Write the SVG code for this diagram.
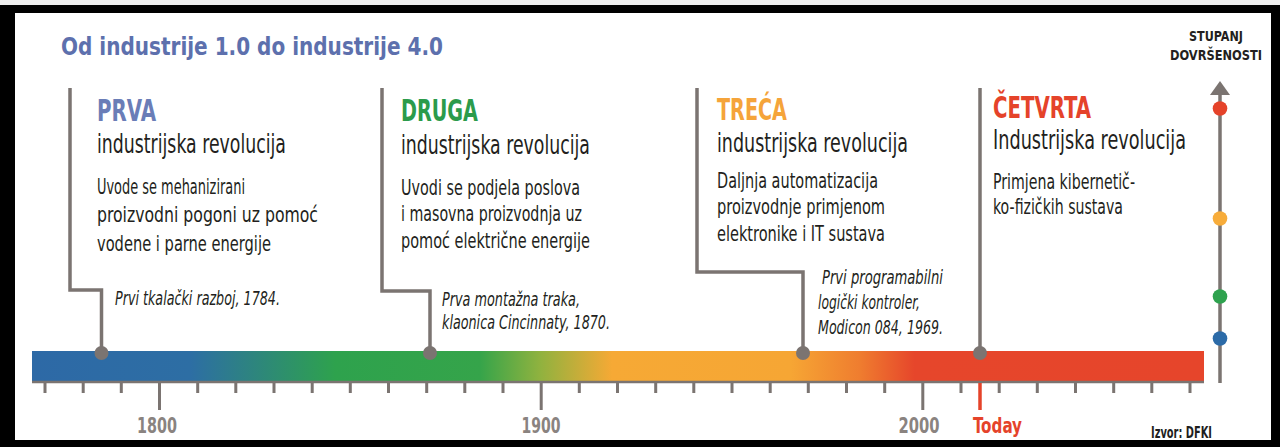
<svg xmlns="http://www.w3.org/2000/svg" width="1280" height="447" viewBox="0 0 1280 447">
  <defs>
    <linearGradient id="barGrad" gradientUnits="userSpaceOnUse" x1="32" y1="0" x2="1204" y2="0">
      <stop offset="0" stop-color="#2d69a6"/>
      <stop offset="0.135" stop-color="#2d6ea4"/>
      <stop offset="0.259" stop-color="#2ea24d"/>
      <stop offset="0.382" stop-color="#35a44a"/>
      <stop offset="0.433" stop-color="#8fb23f"/>
      <stop offset="0.495" stop-color="#f6a935"/>
      <stop offset="0.647" stop-color="#f6a634"/>
      <stop offset="0.706" stop-color="#ef7d2f"/>
      <stop offset="0.753" stop-color="#e6462b"/>
      <stop offset="1" stop-color="#e6452b"/>
    </linearGradient>
    <marker id="arrowUp" markerUnits="userSpaceOnUse" markerWidth="16" markerHeight="22" refX="1" refY="11" orient="auto">
      <path d="M0,1 L14,11 L0,21 Z" fill="#7b7471"/>
    </marker>
  </defs>
  <style>
    .sans { font-family: "Liberation Sans Narrow", "DejaVu Sans Condensed", "Roboto Condensed", "Liberation Sans", Arial, sans-serif; font-stretch: condensed; }
    .title { font-size: 25px; font-weight: bold; fill: #5d70ad; }
    .head { font-size: 31px; font-weight: bold; }
    .sub { font-size: 27px; fill: #231f20; }
    .body { font-size: 22px; fill: #231f20; }
    .note { font-size: 20px; font-style: italic; fill: #231f20; }
    .year { font-size: 22px; font-weight: bold; fill: #8a8380; }
    .small { font-size: 14px; font-weight: bold; fill: #231f20; }
    .conn { fill: none; stroke: #7b7471; stroke-width: 3.5; }
    .dot { fill: #7b7471; }
    .tick { fill: none; stroke: #7b7471; stroke-width: 3; }
  </style>

  <!-- frame -->
  <rect x="0" y="0" width="1280" height="447" fill="#eeeeee"/>
  <rect x="0" y="5" width="1280" height="442" fill="#000000"/>
  <rect x="15" y="13" width="1256" height="427" fill="#ffffff"/>

  <!-- title -->
  <g id="title">
    <text class="sans title" x="61" y="55" textLength="382" lengthAdjust="spacingAndGlyphs">Od industrije 1.0 do industrije 4.0</text>
  </g>

  <!-- timeline bar -->
  <g id="timeline">
    <rect x="32" y="351" width="1172" height="30" fill="url(#barGrad)"/>
    <line x1="32" y1="382" x2="1204" y2="382" stroke="#7b7471" stroke-width="2.5"/>
    <path class="tick" d="M45,382V393 M83.2,382V393 M121.3,382V393 M197.7,382V393 M235.8,382V393 M274,382V393 M312.2,382V393 M350.3,382V393 M388.5,382V393 M426.7,382V393 M464.8,382V393 M503,382V393 M579.3,382V393 M617.5,382V393 M655.7,382V393 M693.8,382V393 M732,382V393 M770.2,382V393 M808.3,382V393 M846.5,382V393 M884.7,382V393 M961,382V393 M999.2,382V393 M1037.3,382V393 M1075.5,382V393 M1113.7,382V393 M1151.8,382V393 M1190,382V393"/>
    <path class="tick" d="M159.5,382V410 M541.2,382V410 M922.8,382V410"/>
    <line x1="980" y1="383" x2="980" y2="410" stroke="#e5432a" stroke-width="3.5"/>
    <text class="sans year" x="157" y="433" text-anchor="middle" textLength="40" lengthAdjust="spacingAndGlyphs">1800</text>
    <text class="sans year" x="541" y="433" text-anchor="middle" textLength="39" lengthAdjust="spacingAndGlyphs">1900</text>
    <text class="sans year" x="919" y="433" text-anchor="middle" textLength="41" lengthAdjust="spacingAndGlyphs">2000</text>
    <text class="sans year" x="973" y="433" style="fill:#e5432a" textLength="49" lengthAdjust="spacingAndGlyphs">Today</text>
  </g>

  <!-- connectors -->
  <g id="connectors">
    <path class="conn" d="M70,88 V290 H101.5 V352"/>
    <path class="conn" d="M382,88 V291 H430 V352"/>
    <path class="conn" d="M697,88 V272 H803 V352"/>
    <path class="conn" d="M980,88 V352"/>
    <circle class="dot" cx="101.5" cy="353" r="7"/>
    <circle class="dot" cx="430" cy="353" r="7"/>
    <circle class="dot" cx="803" cy="353" r="7"/>
    <circle class="dot" cx="980" cy="353" r="7"/>
  </g>

  <!-- first revolution -->
  <g id="prva">
    <text class="sans head" x="97" y="121" fill="#6a7db7" textLength="59" lengthAdjust="spacingAndGlyphs">PRVA</text>
    <text class="sans sub" x="97" y="153" textLength="189" lengthAdjust="spacingAndGlyphs">industrijska revolucija</text>
    <text class="sans body" x="97" y="194" textLength="148" lengthAdjust="spacingAndGlyphs">Uvode se mehanizirani</text>
    <text class="sans body" x="97" y="222" textLength="221" lengthAdjust="spacingAndGlyphs">proizvodni pogoni uz pomoć</text>
    <text class="sans body" x="97" y="251" textLength="174" lengthAdjust="spacingAndGlyphs">vodene i  parne energije</text>
    <text class="sans note" x="115" y="305" textLength="165" lengthAdjust="spacingAndGlyphs">Prvi tkalački razboj, 1784.</text>
  </g>

  <!-- second revolution -->
  <g id="druga">
    <text class="sans head" x="401" y="121" fill="#2b9b4b" textLength="77" lengthAdjust="spacingAndGlyphs">DRUGA</text>
    <text class="sans sub" x="401" y="154" textLength="189" lengthAdjust="spacingAndGlyphs">industrijska revolucija</text>
    <text class="sans body" x="401" y="195" textLength="179" lengthAdjust="spacingAndGlyphs">Uvodi se podjela poslova</text>
    <text class="sans body" x="401" y="221" textLength="181" lengthAdjust="spacingAndGlyphs">i masovna proizvodnja uz</text>
    <text class="sans body" x="401" y="248" textLength="189" lengthAdjust="spacingAndGlyphs">pomoć električne energije</text>
    <text class="sans note" x="442" y="306" textLength="138" lengthAdjust="spacingAndGlyphs">Prva montažna traka,</text>
    <text class="sans note" x="442" y="329" textLength="168" lengthAdjust="spacingAndGlyphs">klaonica Cincinnaty, 1870.</text>
  </g>

  <!-- third revolution -->
  <g id="treca">
    <text class="sans head" x="717" y="120" fill="#f5a43a" textLength="70" lengthAdjust="spacingAndGlyphs">TREĆA</text>
    <text class="sans sub" x="717" y="152" textLength="191" lengthAdjust="spacingAndGlyphs">industrijska revolucija</text>
    <text class="sans body" x="717" y="188" textLength="161" lengthAdjust="spacingAndGlyphs">Daljnja automatizacija</text>
    <text class="sans body" x="717" y="214" textLength="168" lengthAdjust="spacingAndGlyphs">proizvodnje primjenom</text>
    <text class="sans body" x="717" y="241" textLength="168" lengthAdjust="spacingAndGlyphs">elektronike i IT sustava</text>
    <text class="sans note" x="822" y="284" textLength="121" lengthAdjust="spacingAndGlyphs">Prvi programabilni</text>
    <text class="sans note" x="818" y="309" textLength="102" lengthAdjust="spacingAndGlyphs">logički kontroler,</text>
    <text class="sans note" x="818" y="334" textLength="125" lengthAdjust="spacingAndGlyphs">Modicon 084, 1969.</text>
  </g>

  <!-- fourth revolution -->
  <g id="cetvrta">
    <text class="sans head" x="993" y="118" fill="#e5432a" textLength="98" lengthAdjust="spacingAndGlyphs">ČETVRTA</text>
    <text class="sans sub" x="993" y="149" textLength="193" lengthAdjust="spacingAndGlyphs">Industrijska revolucija</text>
    <text class="sans body" x="993" y="189" textLength="142" lengthAdjust="spacingAndGlyphs">Primjena kibernetič-</text>
    <text class="sans body" x="993" y="214" textLength="130" lengthAdjust="spacingAndGlyphs">ko-fizičkih sustava</text>
  </g>

  <!-- degree of completion axis -->
  <g id="stupanj">
    <text class="sans small" x="1216" y="41" text-anchor="middle" textLength="54" lengthAdjust="spacingAndGlyphs">STUPANJ</text>
    <text class="sans small" x="1216" y="60" text-anchor="middle" textLength="92" lengthAdjust="spacingAndGlyphs">DOVRŠENOSTI</text>
    <line x1="1220" y1="383" x2="1220" y2="94" stroke="#7b7471" stroke-width="3.5" marker-end="url(#arrowUp)"/>
    <circle cx="1220" cy="108.5" r="7.3" fill="#e5432a"/>
    <circle cx="1220" cy="218.5" r="7.3" fill="#f7ac3a"/>
    <circle cx="1220" cy="296.5" r="7.3" fill="#2ea24e"/>
    <circle cx="1220" cy="338.5" r="7.3" fill="#2c6ba8"/>
  </g>

  <!-- source -->
  <g id="izvor">
    <text class="sans" x="1151" y="438" font-size="16" font-weight="bold" fill="#1e1e1e" textLength="61" lengthAdjust="spacingAndGlyphs">Izvor: DFKI</text>
  </g>
</svg>
